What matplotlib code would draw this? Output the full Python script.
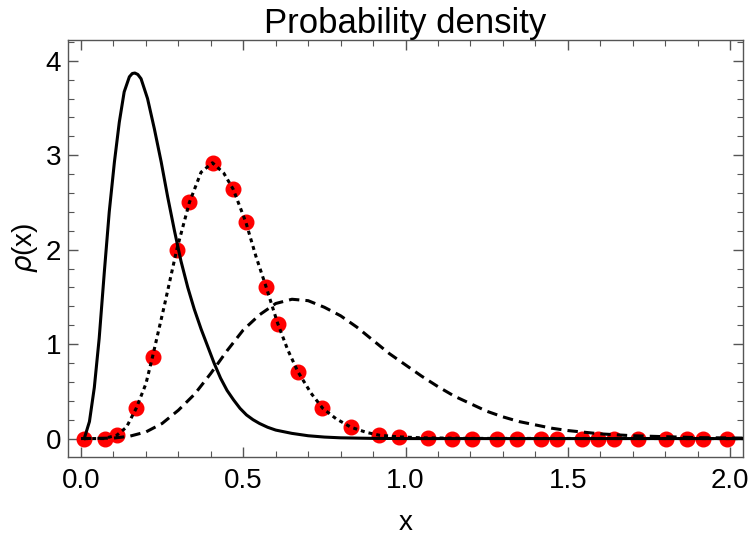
import matplotlib
matplotlib.use("Agg")
import matplotlib.pyplot as plt
from matplotlib.ticker import MultipleLocator

# solid curve
solid_x = [0.010, 0.026, 0.041, 0.056, 0.072, 0.087, 0.103, 0.118, 0.133, 0.149,
           0.158, 0.166, 0.175, 0.185, 0.205, 0.226, 0.247, 0.267, 0.288, 0.308,
           0.329, 0.349, 0.370, 0.390, 0.410, 0.430, 0.450, 0.470, 0.490, 0.510,
           0.530, 0.550, 0.575, 0.600, 0.650, 0.700, 0.750, 0.800, 0.900, 1.000,
           2.040]
solid_y = [0.00, 0.18, 0.54, 1.06, 1.77, 2.40, 2.93, 3.35, 3.67, 3.83,
           3.865, 3.87, 3.855, 3.81, 3.60, 3.28, 2.93, 2.56, 2.20, 1.88,
           1.60, 1.37, 1.16, 0.98, 0.80, 0.64, 0.51, 0.41, 0.32, 0.25,
           0.20, 0.16, 0.12, 0.09, 0.055, 0.03, 0.016, 0.008, 0.002, 0.0,
           0.0]

# dotted curve
dot_x = [0.010, 0.070, 0.110, 0.140, 0.170, 0.200, 0.220, 0.257, 0.295, 0.334,
         0.370, 0.405, 0.440, 0.469, 0.508, 0.539, 0.570, 0.606, 0.637, 0.668,
         0.709, 0.745, 0.786, 0.832, 0.880, 0.920, 0.980, 1.050, 1.200, 2.040]
dot_y = [0.00, 0.00, 0.035, 0.12, 0.32, 0.58, 0.86, 1.41, 2.00, 2.50,
         2.82, 2.92, 2.81, 2.64, 2.29, 1.93, 1.61, 1.22, 0.94, 0.71,
         0.48, 0.32, 0.21, 0.12, 0.065, 0.035, 0.018, 0.008, 0.002, 0.0]

# dashed curve
dash_x = [0.00, 0.10, 0.15, 0.20, 0.25, 0.30, 0.35, 0.40, 0.45, 0.50,
          0.55, 0.60, 0.65, 0.70, 0.75, 0.80, 0.85, 0.90, 0.95, 1.00,
          1.05, 1.10, 1.15, 1.20, 1.25, 1.30, 1.35, 1.40, 1.45, 1.50,
          1.60, 1.70, 1.80, 1.90, 2.04]
dash_y = [0.00, 0.005, 0.025, 0.07, 0.16, 0.30, 0.47, 0.69, 0.93, 1.15,
          1.31, 1.43, 1.475, 1.46, 1.39, 1.30, 1.18, 1.04, 0.90, 0.78,
          0.66, 0.55, 0.45, 0.37, 0.29, 0.23, 0.18, 0.145, 0.11, 0.085,
          0.05, 0.03, 0.02, 0.01, 0.005]

# red sample points
pts_x = [0.010, 0.073, 0.110, 0.171, 0.223, 0.295, 0.334, 0.406, 0.469, 0.508,
         0.570, 0.606, 0.669, 0.743, 0.831, 0.919, 0.980, 1.068, 1.144, 1.206,
         1.281, 1.343, 1.419, 1.467, 1.544, 1.593, 1.641, 1.716, 1.804, 1.868,
         1.916, 1.991]
pts_y = [0.00, 0.00, 0.035, 0.32, 0.86, 2.00, 2.50, 2.92, 2.64, 2.29,
         1.60, 1.21, 0.70, 0.32, 0.12, 0.04, 0.02, 0.005, 0.0, 0.0,
         0.0, 0.0, 0.0, 0.0, 0.0, 0.0, 0.0, 0.0, 0.0, 0.0,
         0.0, 0.0]

plt.rcParams['font.family'] = ['Liberation Sans', 'DejaVu Sans']

fig = plt.figure(figsize=(7.5, 5.44), dpi=100)
ax = fig.add_axes([0.0907, 0.1608, 0.9, 0.7657])

ax.plot(pts_x, pts_y, 'o', color='#ff0000', markersize=10.5, zorder=2)
ax.plot(solid_x, solid_y, color='black', lw=2.2, zorder=3)
l_dot, = ax.plot(dot_x, dot_y, color='black', lw=2.2, zorder=3)
l_dot.set_dashes((1.3, 1.3))
l_dash, = ax.plot(dash_x, dash_y, color='black', lw=2.2, zorder=3)
l_dash.set_dashes((3.4, 2.0))

ax.set_xlim(-0.04, 2.04)
ax.set_ylim(-0.19, 4.22)
ax.xaxis.set_major_locator(MultipleLocator(0.5))
ax.xaxis.set_minor_locator(MultipleLocator(0.1))
ax.yaxis.set_major_locator(MultipleLocator(1))
ax.yaxis.set_minor_locator(MultipleLocator(0.2))
ax.xaxis.set_major_formatter(matplotlib.ticker.FormatStrFormatter('%.1f'))

frame = '#555555'
for s in ax.spines.values():
    s.set_color(frame)
    s.set_linewidth(1.0)
ax.tick_params(which='both', direction='in', top=True, right=True,
               color=frame, labelsize=20, labelcolor='black')
ax.tick_params(axis='x', which='both', pad=8)
ax.tick_params(axis='y', which='both', pad=5)
ax.tick_params(which='major', length=7, width=1.0)
ax.tick_params(which='minor', length=4, width=0.8)

ax.set_title('Probability density', fontsize=25, pad=3)
ax.set_xlabel('x', fontsize=20, labelpad=12)
ax.set_ylabel(r'$\rho$(x)', fontsize=20, labelpad=4)

fig.savefig('out.png', dpi=100)
